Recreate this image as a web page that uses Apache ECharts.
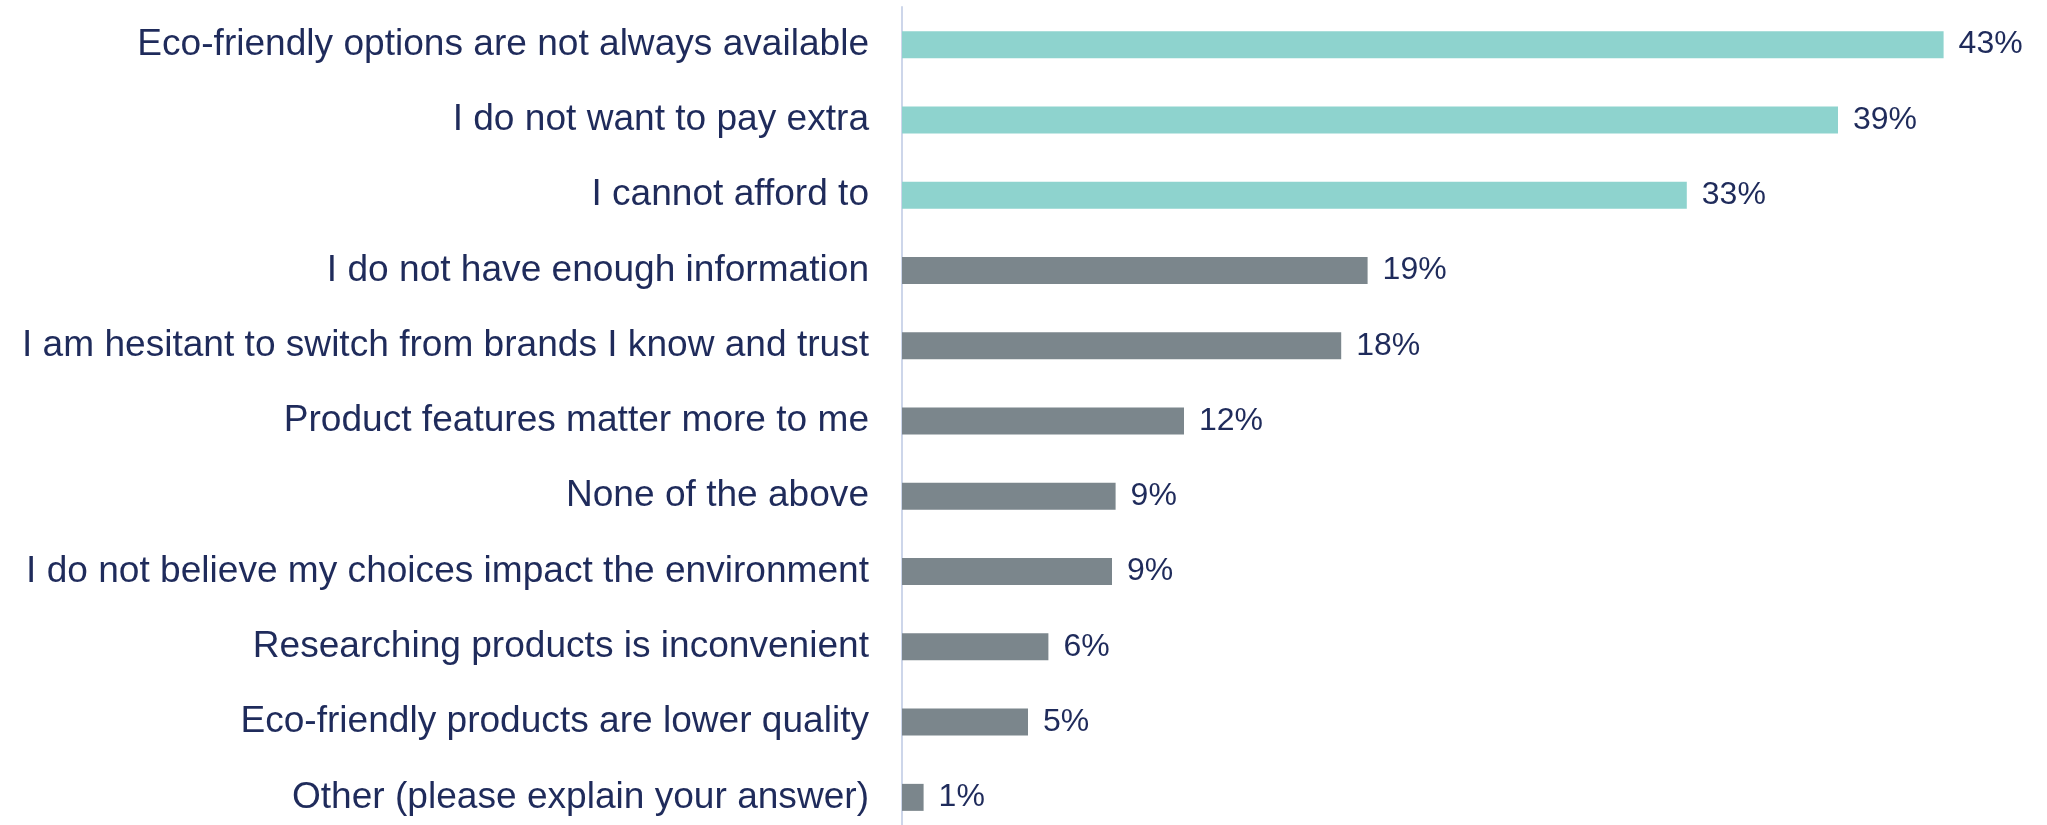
<!DOCTYPE html>
<html>
<head>
<meta charset="utf-8">
<title>Reasons for not choosing eco-friendly products</title>
<script src="https://cdn.jsdelivr.net/npm/echarts@6/dist/echarts.min.js"></script>
<style>
  html, body { margin: 0; padding: 0; background: #fff; }
  #chart { width: 2047px; height: 825px; }
</style>
</head>
<body>
<div id="chart"></div>
<script>
// 类别（从上到下）
const reasons = [
  'Eco-friendly options are not always available',
  'I do not want to pay extra',
  'I cannot afford to',
  'I do not have enough information',
  'I am hesitant to switch from brands I know and trust',
  'Product features matter more to me',
  'None of the above',
  'I do not believe my choices impact the environment',
  'Researching products is inconvenient',
  'Eco-friendly products are lower quality',
  'Other (please explain your answer)'
]
// 百分比（柱长按图估读，标签取整显示）
const shares = [43.4, 39.0, 32.7, 19.4, 18.3, 11.75, 8.9, 8.75, 6.1, 5.25, 0.9]
// 前几项高亮
const highlightCount = 3

const TEAL = '#8ED3CE'
const GREY = '#7B868C'
const NAVY = '#1F2B5B'
const FONT = '"Liberation Sans", Arial, sans-serif'

const chart = echarts.init(document.getElementById('chart'))

chart.setOption({
  animation: false,
  grid: {
    left: 902,
    right: 17,
    top: 7,
    height: 828,
    outerBoundsMode: 'none'
  },
  xAxis: {
    type: 'value',
    min: 0,
    max: 47,
    show: false
  },
  yAxis: {
    type: 'category',
    data: reasons,
    inverse: true,
    axisTick: { show: false },
    axisLine: {
      show: true,
      lineStyle: { color: '#CDD6EA', width: 2 }
    },
    axisLabel: {
      margin: 33,
      fontSize: 37.1,
      fontFamily: FONT,
      color: NAVY
    }
  },
  series: [{
    type: 'bar',
    data: shares,
    barWidth: 27,
    itemStyle: {
      color: function (params) {
        return params.dataIndex < highlightCount ? TEAL : GREY
      }
    },
    label: {
      show: true,
      position: 'right',
      distance: 15,
      fontSize: 32,
      fontFamily: FONT,
      color: NAVY,
      formatter: function (params) {
        return Math.round(params.value) + '%'
      }
    }
  }]
})
</script>
</body>
</html>
